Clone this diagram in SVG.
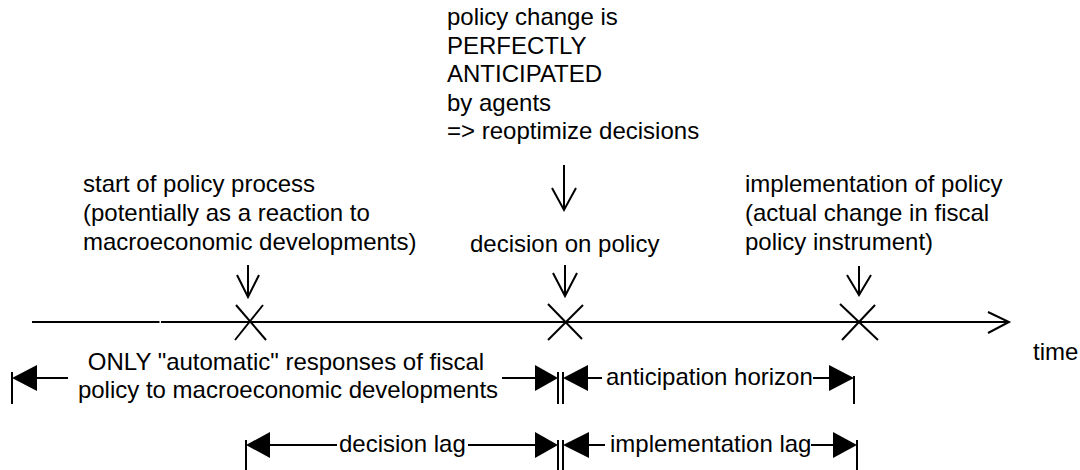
<svg xmlns="http://www.w3.org/2000/svg" width="1080" height="470" viewBox="0 0 1080 470">
<style>
text{font-family:"Liberation Sans",Arial,sans-serif;font-size:24px;fill:#000}
.ln{stroke:#000;stroke-width:2;fill:none}
.tri{fill:#000;stroke:none}
</style>
<rect width="1080" height="470" fill="#fff"/>
<g id="connectors">
<line class="ln" x1="32" y1="322" x2="159.5" y2="322"/>
<line class="ln" x1="161" y1="322" x2="1008" y2="322"/>
<polyline class="ln" points="988,312 1009,322 988,333"/>
<line class="ln" x1="248" y1="265" x2="248" y2="297"/>
<polyline class="ln" points="237,275 248,297 259,275"/>
<line class="ln" x1="564" y1="165" x2="564" y2="210"/>
<polyline class="ln" points="552,188 564,210 576,188"/>
<line class="ln" x1="565" y1="265" x2="565" y2="296"/>
<polyline class="ln" points="553,273 565,296 577,273"/>
<line class="ln" x1="859" y1="266" x2="859" y2="295"/>
<polyline class="ln" points="847,275 859,295 871,275"/>
</g>
<g id="mark-start">
<line class="ln" x1="236" y1="305" x2="266" y2="340"/>
<line class="ln" x1="263" y1="305" x2="235" y2="340"/>
</g>
<g id="mark-decision">
<line class="ln" x1="548" y1="304" x2="582" y2="339"/>
<line class="ln" x1="583" y1="305" x2="548" y2="340"/>
</g>
<g id="mark-impl">
<line class="ln" x1="840" y1="304" x2="878" y2="340"/>
<line class="ln" x1="875" y1="305" x2="842" y2="340"/>
</g>
<g id="label-start">
<text x="83" y="192">start of policy process</text>
<text x="83" y="221">(potentially as a reaction to</text>
<text x="83" y="250">macroeconomic developments)</text>
</g>
<g id="label-anticipated">
<text x="447" y="25">policy change is</text>
<text x="447" y="54">PERFECTLY</text>
<text x="447" y="82">ANTICIPATED</text>
<text x="447" y="111">by agents</text>
<text x="447" y="139">=&gt; reoptimize decisions</text>
</g>
<g id="label-decision">
<text x="470" y="252">decision on policy</text>
</g>
<g id="label-impl">
<text x="745" y="192">implementation of policy</text>
<text x="745" y="221">(actual change in fiscal</text>
<text x="745" y="250">policy instrument)</text>
</g>
<g id="label-time">
<text x="1033" y="360">time</text>
</g>
<g id="span-automatic">
<line class="ln" x1="12" y1="372" x2="12" y2="404"/>
<polygon class="tri" points="12,378 37,365 37,391"/>
<line class="ln" x1="37" y1="378" x2="68" y2="378"/>
<text x="286" y="370" text-anchor="middle">ONLY "automatic" responses of fiscal</text>
<text x="288" y="398" text-anchor="middle">policy to macroeconomic developments</text>
<line class="ln" x1="502" y1="378" x2="536" y2="378"/>
<polygon class="tri" points="535,365 535,391 558,378"/>
<line class="ln" x1="558" y1="372" x2="558" y2="404"/>
</g>
<g id="span-anticipation">
<line class="ln" x1="563" y1="372" x2="563" y2="404"/>
<polygon class="tri" points="563,378 588,365 588,391"/>
<line class="ln" x1="587" y1="378" x2="602" y2="378"/>
<text x="606" y="385">anticipation horizon</text>
<line class="ln" x1="813" y1="378" x2="830" y2="378"/>
<polygon class="tri" points="829,365 829,391 854,378"/>
<line class="ln" x1="854" y1="376" x2="854" y2="404"/>
</g>
<g id="span-decision-lag">
<line class="ln" x1="246" y1="440" x2="246" y2="470"/>
<polygon class="tri" points="246,445 270,432 270,458"/>
<line class="ln" x1="269" y1="445" x2="337" y2="445"/>
<text x="339" y="452">decision lag</text>
<line class="ln" x1="468" y1="445" x2="536" y2="445"/>
<polygon class="tri" points="535,432 535,458 558,445"/>
<line class="ln" x1="558" y1="440" x2="558" y2="470"/>
</g>
<g id="span-impl-lag">
<line class="ln" x1="563" y1="440" x2="563" y2="470"/>
<polygon class="tri" points="563,445 589,432 589,458"/>
<line class="ln" x1="588" y1="445" x2="605" y2="445"/>
<text x="610" y="452">implementation lag</text>
<line class="ln" x1="811" y1="445" x2="834" y2="445"/>
<polygon class="tri" points="833,432 833,458 857,445"/>
<line class="ln" x1="857" y1="440" x2="857" y2="470"/>
</g>
</svg>
